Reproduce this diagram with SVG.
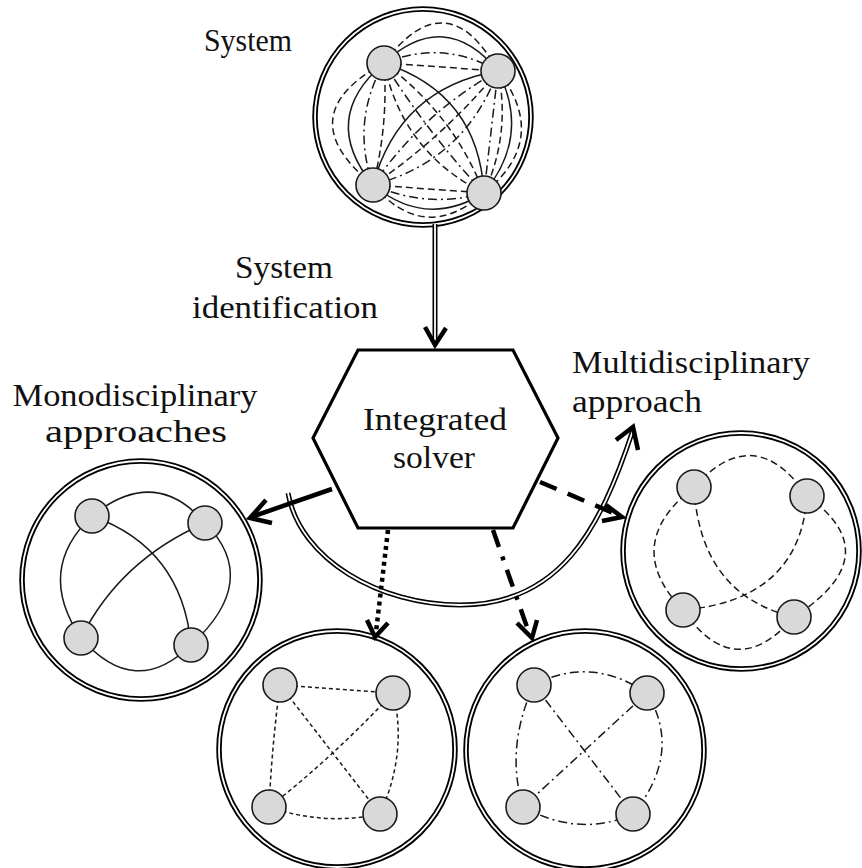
<svg xmlns="http://www.w3.org/2000/svg" width="862" height="868" viewBox="0 0 862 868">
  <style>
    .ring { fill: #fff; stroke: #000; stroke-width: 5.5; }
    .ring-in { fill: none; stroke: #fff; stroke-width: 1.8; }
    .node { fill: #d9d9d9; stroke: #1a1a1a; stroke-width: 1.6; }
    .ln { fill: none; stroke: #1a1a1a; stroke-width: 1.5; }
    .dsh { stroke-dasharray: 7 4; }
    .dd { stroke-dasharray: 9 4 2 4; }
    .sd { stroke-dasharray: 4 3; }
    .lbl { font-family: "Liberation Serif", "DejaVu Serif", serif; font-size: 32px; fill: #111; }
    .hex { fill: #fff; stroke: #000; stroke-width: 3.2; stroke-linejoin: miter; }
    .arr { fill: none; stroke: #000; stroke-width: 4.5; }
    .head { fill: none; stroke: #000; stroke-width: 4.5; stroke-linejoin: miter; stroke-linecap: butt; }
    .dbl-out { fill: none; stroke: #000; stroke-width: 5; }
    .dbl-in { fill: none; stroke: #fff; stroke-width: 1.8; }
  </style>

  <!-- System: fully connected network -->
  <g id="system">
    <circle class="ring" cx="423" cy="117" r="108"/>
    <circle class="ring-in" cx="423" cy="117" r="108"/>
    <g id="system-links">
      <!-- top side -->
      <path class="ln dsh" d="M384 63 L498 71"/>
      <path class="ln dd" d="M384 63 Q443 39 498 71"/>
      <path class="ln" d="M384 63 Q445 7 498 71"/>
      <path class="ln dsh" d="M384 63 Q447 -21 498 71"/>
      <!-- left side -->
      <path class="ln dsh" d="M384 63 Q388.5 125 373 185"/>
      <path class="ln dd" d="M384 63 Q350.6 121.5 373 185"/>
      <path class="ln" d="M384 63 Q318.7 118.6 373 185"/>
      <path class="ln dsh" d="M384 63 Q286.9 115.7 373 185"/>
      <!-- right side -->
      <path class="ln dd" d="M498 71 L484 193"/>
      <path class="ln dsh" d="M498 71 Q511 134 484 193"/>
      <path class="ln" d="M498 71 Q531 136 484 193"/>
      <path class="ln dsh" d="M498 71 Q551 139 484 193"/>
      <!-- bottom side -->
      <path class="ln dsh" d="M373 185 L484 193"/>
      <path class="ln dd" d="M373 185 Q427 209 484 193"/>
      <path class="ln" d="M373 185 Q426 229 484 193"/>
      <path class="ln dsh" d="M373 185 Q425 245 484 193"/>
      <!-- diagonals -->
      <path class="ln" d="M384 63 Q478.4 93.8 484 193"/>
      <path class="ln dsh" d="M384 63 Q453 113.4 484 193"/>
      <path class="ln dd" d="M384 63 Q427.7 132.9 484 193"/>
      <path class="ln dsh" d="M384 63 Q402.3 152.4 484 193"/>
      <path class="ln" d="M498 71 Q399.1 88.1 373 185"/>
      <path class="ln dd" d="M498 71 Q422 113.2 373 185"/>
      <path class="ln dsh" d="M498 71 Q443.6 136.9 373 185"/>
      <path class="ln dd" d="M498 71 Q465.2 160.5 373 185"/>
    </g>
    <circle class="node" cx="384" cy="63" r="17"/>
    <circle class="node" cx="498" cy="71" r="17"/>
    <circle class="node" cx="373" cy="185" r="17"/>
    <circle class="node" cx="484" cy="193" r="17"/>
  </g>

  <!-- Monodisciplinary network (solid links) -->
  <g id="mono-solid">
    <circle class="ring" cx="141" cy="580" r="119"/>
    <circle class="ring-in" cx="141" cy="580" r="119"/>
    <path class="ln" d="M92 516 Q155 465 205 523"/>
    <path class="ln" d="M92 516 Q182 548 191 645"/>
    <path class="ln" d="M205 523 Q120 560 81 638"/>
    <path class="ln" d="M92 516 Q35 570 81 638"/>
    <path class="ln" d="M205 523 Q262 580 191 645"/>
    <path class="ln" d="M81 638 Q135 700 191 645"/>
    <circle class="node" cx="92" cy="516" r="17"/>
    <circle class="node" cx="205" cy="523" r="17"/>
    <circle class="node" cx="81" cy="638" r="17"/>
    <circle class="node" cx="191" cy="645" r="17"/>
  </g>

  <!-- Monodisciplinary network (short dashes) -->
  <g id="mono-dashed">
    <circle class="ring" cx="337" cy="749" r="118"/>
    <circle class="ring-in" cx="337" cy="749" r="118"/>
    <path class="ln sd" d="M280 685 L393 693"/>
    <path class="ln sd" d="M280 685 Q272 745 269 807"/>
    <path class="ln sd" d="M280 685 L380 814"/>
    <path class="ln sd" d="M393 693 Q330 760 269 807"/>
    <path class="ln sd" d="M393 693 Q408 752 380 814"/>
    <path class="ln sd" d="M269 807 Q325 826 380 814"/>
    <circle class="node" cx="280" cy="685" r="17"/>
    <circle class="node" cx="393" cy="693" r="17"/>
    <circle class="node" cx="269" cy="807" r="17"/>
    <circle class="node" cx="380" cy="814" r="17"/>
  </g>

  <!-- Monodisciplinary network (dash-dot) -->
  <g id="mono-dashdot">
    <circle class="ring" cx="585" cy="750" r="119"/>
    <circle class="ring-in" cx="585" cy="750" r="119"/>
    <path class="ln dd" d="M534 685 Q590 655 647 693"/>
    <path class="ln dd" d="M534 685 Q505 747 523 807"/>
    <path class="ln dd" d="M534 685 L633 814"/>
    <path class="ln dd" d="M647 693 L523 807"/>
    <path class="ln dd" d="M647 693 Q683 753 633 814"/>
    <path class="ln dd" d="M523 807 Q580 838 633 814"/>
    <circle class="node" cx="534" cy="685" r="17"/>
    <circle class="node" cx="647" cy="693" r="17"/>
    <circle class="node" cx="523" cy="807" r="17"/>
    <circle class="node" cx="633" cy="814" r="17"/>
  </g>

  <!-- Monodisciplinary network (long dashes) -->
  <g id="mono-longdash">
    <circle class="ring" cx="741" cy="551" r="118"/>
    <circle class="ring-in" cx="741" cy="551" r="118"/>
    <path class="ln dsh" d="M694 487 Q755 420 807 496"/>
    <path class="ln dsh" d="M694 487 Q620 545 683 610"/>
    <path class="ln dsh" d="M807 496 Q890 555 794 617"/>
    <path class="ln dsh" d="M683 610 Q735 685 794 617"/>
    <path class="ln dsh" d="M694 487 Q700 595 794 617"/>
    <path class="ln dsh" d="M807 496 Q800 600 683 610"/>
    <circle class="node" cx="694" cy="487" r="17"/>
    <circle class="node" cx="807" cy="496" r="17"/>
    <circle class="node" cx="683" cy="610" r="17"/>
    <circle class="node" cx="794" cy="617" r="17"/>
  </g>

  <!-- Integrated solver -->
  <g id="solver">
    <polygon class="hex" points="358,350 513,350 558,438 513,528 358,528 313,438"/>
    <text class="lbl" x="435" y="430" text-anchor="middle" textLength="144" lengthAdjust="spacingAndGlyphs">Integrated</text>
    <text class="lbl" x="434" y="468" text-anchor="middle" textLength="82" lengthAdjust="spacingAndGlyphs">solver</text>
  </g>

  <!-- Connectors -->
  <g id="connectors">
    <!-- system identification -->
    <line class="dbl-out" x1="435" y1="224" x2="435" y2="344"/>
    <line class="dbl-in" x1="435" y1="224" x2="435" y2="343"/>
    <polyline class="head" points="425,327 435,345 446,328"/>
    <!-- multidisciplinary approach -->
    <path class="dbl-out" d="M288 493 C300 560 380 605 460 605 C560 605 600 530 633 430"/>
    <path class="dbl-in" d="M288 493 C300 560 380 605 460 605 C560 605 600 530 632.5 431.5"/>
    <polyline class="head" points="616,440 633,427 638,450"/>
    <!-- solid -->
    <line class="arr" x1="332" y1="489" x2="254" y2="516"/>
    <polyline class="head" points="266,500 250,518 272,523"/>
    <!-- dotted -->
    <line class="arr" x1="388" y1="530" x2="376" y2="632" stroke-dasharray="4 4"/>
    <polyline class="head" points="367,620 375,637 388,623"/>
    <!-- dash-dot -->
    <line class="arr" x1="493" y1="530" x2="528" y2="630" stroke-dasharray="18 10 4 10"/>
    <polyline class="head" points="517,623 532,638 537,620"/>
    <!-- dashed -->
    <line class="arr" x1="540" y1="482" x2="618" y2="515" stroke-dasharray="18 12"/>
    <polyline class="head" points="606,505 622,517 602,521"/>
  </g>

  <!-- Labels -->
  <g id="labels">
    <text class="lbl" x="248" y="51" text-anchor="middle" textLength="88" lengthAdjust="spacingAndGlyphs">System</text>
    <text class="lbl" x="284" y="278" text-anchor="middle" textLength="98" lengthAdjust="spacingAndGlyphs">System</text>
    <text class="lbl" x="285" y="318" text-anchor="middle" textLength="186" lengthAdjust="spacingAndGlyphs">identification</text>
    <text class="lbl" x="135" y="406" text-anchor="middle" textLength="245" lengthAdjust="spacingAndGlyphs">Monodisciplinary</text>
    <text class="lbl" x="136" y="442" text-anchor="middle" textLength="182" lengthAdjust="spacingAndGlyphs">approaches</text>
    <text class="lbl" x="572" y="373" textLength="238" lengthAdjust="spacingAndGlyphs">Multidisciplinary</text>
    <text class="lbl" x="572" y="412" textLength="130" lengthAdjust="spacingAndGlyphs">approach</text>
  </g>
</svg>
